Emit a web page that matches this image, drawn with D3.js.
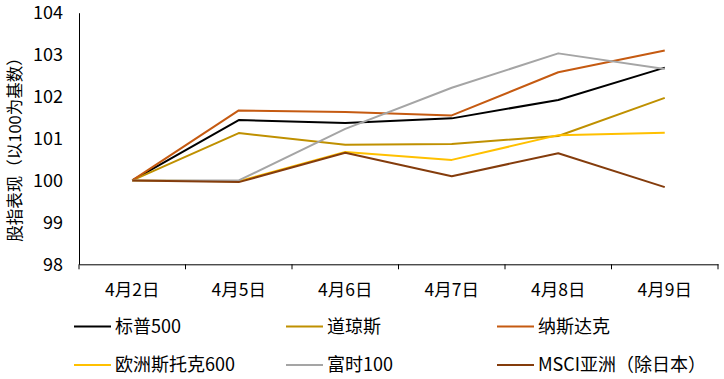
<!DOCTYPE html>
<html><head><meta charset="utf-8">
<script src="https://cdn.jsdelivr.net/npm/d3@7"></script>
<style>
html,body{margin:0;padding:0;background:#fff;}
text{font-family:"Microsoft YaHei","Noto Sans CJK SC",sans-serif;fill:#000;}
</style></head>
<body><svg id="c" width="724" height="379"></svg>
<script>
const categories = ["4月2日","4月5日","4月6日","4月7日","4月8日","4月9日"];
const seriesNames = ["标普500","道琼斯","纳斯达克","欧洲斯托克600","富时100","MSCI亚洲（除日本）"];
const sp500   = [100, 101.44, 101.37, 101.48, 101.92, 102.69];
const dow     = [100, 101.13, 100.85, 100.87, 101.06, 101.97];
const nasdaq  = [100, 101.67, 101.63, 101.55, 102.58, 103.10];
const stoxx   = [100, 99.98, 100.68, 100.49, 101.08, 101.14];
const ftse    = [100, 100.00, 101.23, 102.21, 103.03, 102.66];
const msci    = [100, 99.96, 100.66, 100.10, 100.65, 99.84];
const yTicks  = [98, 99, 100, 101, 102, 103, 104];
const colors  = ["#000000","#BF9000","#C55A11","#FFC000","#A5A5A5","#843C0C"];
const yTitle  = "股指表现（以100为基数）";

const values = [sp500, dow, nasdaq, stoxx, ftse, msci];
const svg = d3.select("#c");
const L = 79, R = 718, T = 12.7, B = 264.3;
const FF = '"Microsoft YaHei","Noto Sans CJK SC",sans-serif';

const x = d3.scaleBand().domain(categories).range([L, R]).padding(0);
const y = d3.scaleLinear().domain([98, 104]).range([B, T]);

// y axis
const yAxis = svg.append("g").attr("transform", `translate(${L},0)`)
  .call(d3.axisLeft(y).tickValues(yTicks).tickSize(0).tickPadding(16).tickFormat(d3.format("d")));
yAxis.select(".domain").attr("stroke","#000").attr("stroke-width",1);
yAxis.selectAll("text").attr("font-size","18px").attr("fill","#000").style("font-family",FF);

// x axis
const xAxis = svg.append("g").attr("transform", `translate(0,${B})`)
  .call(d3.axisBottom(x).tickSize(0).tickPadding(19));
xAxis.select(".domain").attr("stroke","#000").attr("stroke-width",1);
xAxis.selectAll("text").attr("font-size","17.5px").attr("fill","#000").style("font-family",FF);
// boundary ticks
const bounds = categories.map(c => x(c)).concat([x(categories[categories.length-1]) + x.bandwidth()]);
xAxis.selectAll("line.bt").data(bounds).enter().append("line").attr("class","bt")
  .attr("x1", d => d).attr("x2", d => d).attr("y1", 0).attr("y2", 5)
  .attr("stroke","#000").attr("stroke-width",1);

// y title
svg.append("text")
  .attr("transform", `translate(21,${(T+B)/2 + 7}) rotate(-90)`)
  .attr("text-anchor","middle")
  .attr("font-size","16.5px")
  .text(yTitle);

// lines
const line = d3.line().x((d,i) => x(categories[i]) + x.bandwidth()/2).y(d => y(d));
values.forEach((vals, k) => {
  svg.append("path").datum(vals).attr("d", line)
    .attr("fill","none").attr("stroke", colors[k]).attr("stroke-width", 2)
    .attr("stroke-linejoin","round");
});

// legend
const legendX = [74, 286, 497];
const legendY = [326.5, 365];
seriesNames.forEach((name, k) => {
  const lx = legendX[k % 3], ly = legendY[Math.floor(k / 3)];
  svg.append("line").attr("x1", lx).attr("x2", lx + 37).attr("y1", ly).attr("y2", ly)
    .attr("stroke", colors[k]).attr("stroke-width", 2);
  svg.append("text").attr("x", lx + 41).attr("y", ly).attr("dy","0.35em")
    .attr("font-size","18px").text(name);
});
</script></body></html>
